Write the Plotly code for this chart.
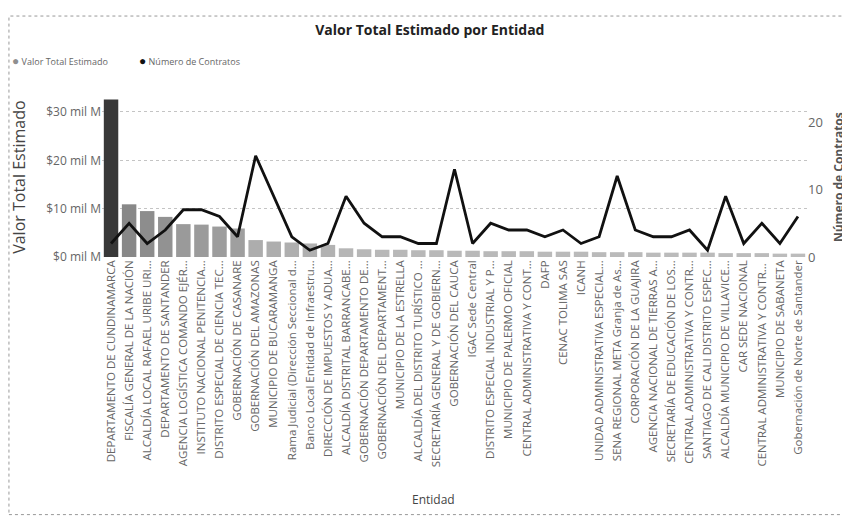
import plotly.graph_objects as go

entidades = [
    "DEPARTAMENTO DE CUNDINAMARCA",
    "FISCALÍA GENERAL DE LA NACIÓN",
    "ALCALDÍA LOCAL RAFAEL URIBE URI…",
    "DEPARTAMENTO DE SANTANDER",
    "AGENCIA LOGÍSTICA COMANDO EJÉR…",
    "INSTITUTO NACIONAL PENITENCIA…",
    "DISTRITO ESPECIAL DE CIENCIA TEC…",
    "GOBERNACIÓN DE CASANARE",
    "GOBERNACIÓN DEL AMAZONAS",
    "MUNICIPIO DE BUCARAMANGA",
    "Rama Judicial (Dirección Seccional d…",
    "Banco Local Entidad de Infraestru…",
    "DIRECCIÓN DE IMPUESTOS Y ADUA…",
    "ALCALDÍA DISTRITAL BARRANCABE…",
    "GOBERNACIÓN DEPARTAMENTO DE…",
    "GOBERNACIÓN DEL DEPARTAMENT…",
    "MUNICIPIO DE LA ESTRELLA",
    "ALCALDÍA DEL DISTRITO TURÍSTICO …",
    "SECRETARÍA GENERAL Y DE GOBIERN…",
    "GOBERNACIÓN DEL CAUCA",
    "IGAC Sede Central",
    "DISTRITO ESPECIAL INDUSTRIAL Y P…",
    "MUNICIPIO DE PALERMO OFICIAL",
    "CENTRAL ADMINISTRATIVA Y CONT…",
    "DAFP",
    "CENAC TOLIMA SAS",
    "ICANH",
    "UNIDAD ADMINISTRATIVA ESPECIAL…",
    "SENA REGIONAL META Granja de As…",
    "CORPORACIÓN DE LA GUAJIRA",
    "AGENCIA NACIONAL DE TIERRAS A…",
    "SECRETARÍA DE EDUCACIÓN DE LOS…",
    "CENTRAL ADMINISTRATIVA Y CONTR…",
    "SANTIAGO DE CALI DISTRITO ESPEC…",
    "ALCALDÍA MUNICIPIO DE VILLAVICE…",
    "CAR SEDE NACIONAL",
    "CENTRAL ADMINISTRATIVA Y CONTR… ",
    "MUNICIPIO DE SABANETA",
    "Gobernación de Norte de Santander",
]

# Valor Total Estimado (mil M)
valor_total = [32.6, 10.9, 9.5, 8.3, 6.8, 6.7, 6.3, 5.9, 3.5, 3.2,
               3.0, 2.8, 2.5, 1.8, 1.6, 1.5, 1.5, 1.4, 1.4, 1.3,
               1.3, 1.2, 1.2, 1.2, 1.1, 1.1, 1.1, 1.0, 1.0, 1.0,
               0.9, 0.9, 0.9, 0.9, 0.8, 0.8, 0.8, 0.7, 0.7]

# Número de Contratos
num_contratos = [2, 5, 2, 4, 7, 7, 6, 3, 15, 9,
                 3, 1, 2, 9, 5, 3, 3, 2, 2, 13,
                 2, 5, 4, 4, 3, 4, 2, 3, 12, 4,
                 3, 3, 4, 1, 9, 2, 5, 2, 6]

left_ticks = [0, 10, 20, 30]
left_ticktext = ["$0 mil M", "$10 mil M", "$20 mil M", "$30 mil M"]
right_ticks = [0, 10, 20]

FONT = "Open Sans"

fig = go.Figure()

fig.add_trace(go.Bar(
    x=entidades, y=valor_total, name="Valor Total Estimado",
    marker=dict(color=valor_total,
                colorscale=[[0, "#bcbcbc"], [0.25, "#909090"], [1, "#383838"]],
                line=dict(width=0)),
    showlegend=False, yaxis="y",
))

fig.add_trace(go.Scatter(
    x=entidades, y=num_contratos, name="Número de Contratos",
    mode="lines", line=dict(color="#111111", width=2.8),
    showlegend=False, yaxis="y2",
))

leg1 = "<span style='color:#8f8f8f;font-size:12px'>●</span> Valor Total Estimado"
leg2 = "<span style='color:#111111;font-size:12px'>●</span> Número de Contratos"

# page body has an 8px default margin: figure is 842x513 to fill 850x521
fig.update_layout(
    width=842, height=513,
    margin=dict(l=94, r=43, t=89, b=264),
    paper_bgcolor="white", plot_bgcolor="white",
    font=dict(family=FONT, color="#555555"),
    bargap=0.2,
    showlegend=False,
    title=dict(text="<b>Valor Total Estimado por Entidad</b>", x=0.501, xanchor="center",
               y=0.957, yanchor="middle", font=dict(size=14, color="#222222", family=FONT)),
    xaxis=dict(tickangle=-90, tickfont=dict(size=11.5, color="#666666"),
               showgrid=False, showline=False, ticks="", automargin=False),
    yaxis=dict(range=[0, 33.1], tickvals=left_ticks, ticktext=left_ticktext,
               tickfont=dict(size=12, color="#666666"), showgrid=True,
               gridcolor="#c4c4c4", griddash="dot", gridwidth=1,
               zeroline=False, showline=False, automargin=False),
    yaxis2=dict(range=[0, 23.7], tickvals=right_ticks, overlaying="y", side="right",
                tickfont=dict(size=13, color="#666666"), showgrid=False,
                zeroline=False, showline=False, automargin=False),
    annotations=[
        dict(text=leg1, xref="paper", yref="paper", x=-0.131, y=1.23,
             showarrow=False, xanchor="left", yanchor="middle",
             font=dict(size=9, color="#666666", family=FONT)),
        dict(text=leg2, xref="paper", yref="paper", x=0.049, y=1.23,
             showarrow=False, xanchor="left", yanchor="middle",
             font=dict(size=9, color="#666666", family=FONT)),
        dict(text="Valor Total Estimado", xref="paper", yref="paper", x=-0.118, y=0.5,
             textangle=-90, showarrow=False, xanchor="center", yanchor="middle",
             font=dict(size=16, color="#444444", family=FONT)),
        dict(text="<b>Número de Contratos</b>", xref="paper", yref="paper", x=1.044, y=0.5,
             textangle=-90, showarrow=False, xanchor="center", yanchor="middle",
             font=dict(size=12, color="#555555", family=FONT)),
        dict(text="Entidad", xref="paper", yref="paper", x=0.47, y=-1.515,
             showarrow=False, xanchor="center", yanchor="middle",
             font=dict(size=12, color="#444444", family=FONT)),
    ],
    shapes=[
        dict(type="rect", xref="paper", yref="paper", x0=-0.132, x1=1.058, y0=-1.61, y1=1.506,
             line=dict(color="#999999", width=1, dash="dot")),
    ],
)

fig.write_html("out.html")
